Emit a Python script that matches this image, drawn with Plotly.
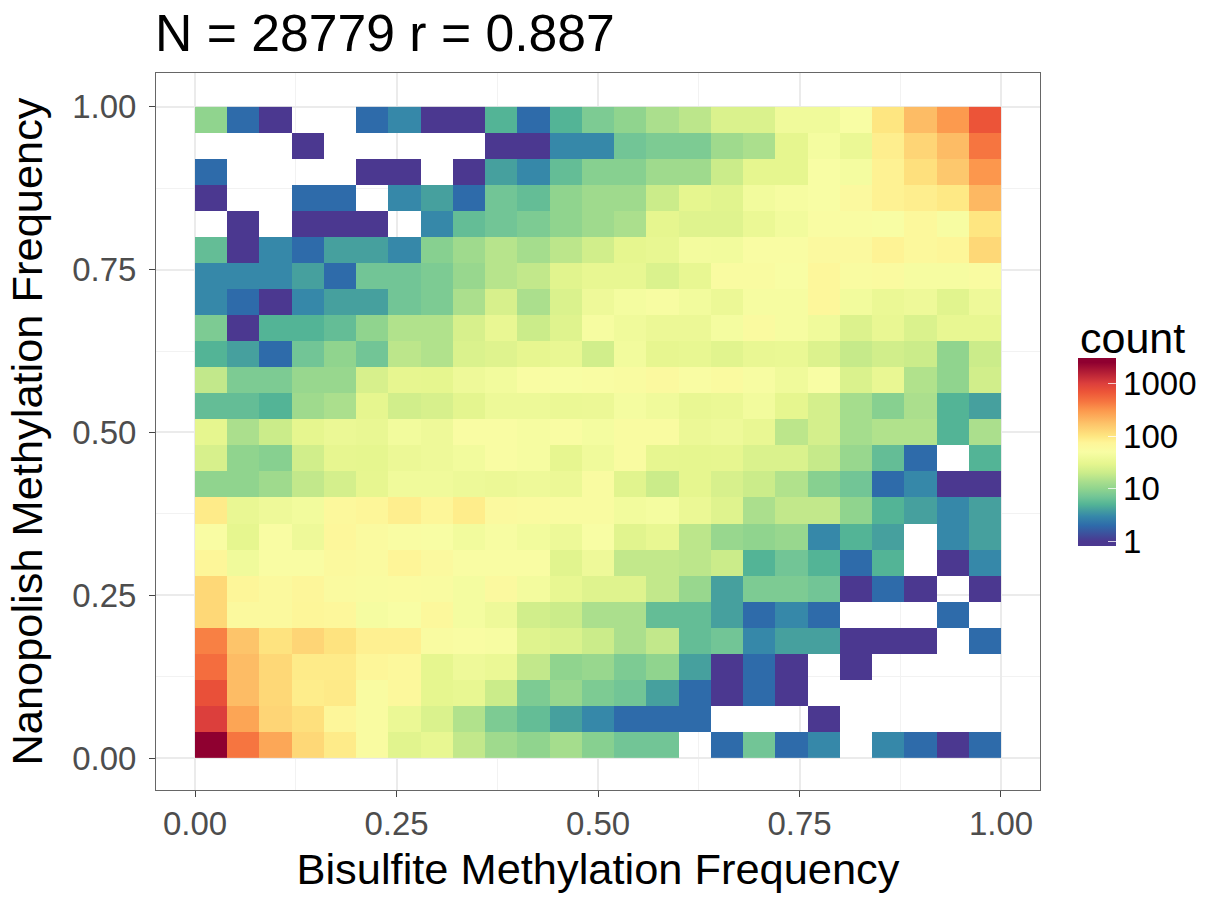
import numpy as np
import plotly.graph_objects as go

title_text = "N = 28779 r = 0.887"
x_title = "Bisulfite Methylation Frequency"
y_title = "Nanopolish Methylation Frequency"
legend_title = "count"
axis_ticks = [0, 0.25, 0.5, 0.75, 1.0]
axis_labels = ["0.00", "0.25", "0.50", "0.75", "1.00"]
minor_ticks = [0.125, 0.375, 0.625, 0.875]
legend_ticks = [1, 10, 100, 1000]

# Counts per bin, top row (y = 1) first, 0 = empty bin
r24 = [10,2,1,0,0,2,3,1,1,5,2,5,8,10,14,17,25,25,40,40,50,100,190,300,700]
r23 = [0,0,0,1,0,0,0,0,0,1,1,3,3,7,8,8,12,14,30,45,35,85,130,190,450]
r22 = [2,0,0,0,0,1,1,0,1,4,3,6,9,9,12,12,20,30,30,50,45,80,110,160,310]
r21 = [1,0,0,2,2,0,3,4,2,7,6,10,12,12,20,30,28,42,47,50,60,80,85,95,200]
r20 = [0,1,0,1,1,1,0,3,6,7,8,10,12,14,30,27,27,35,42,52,52,50,65,48,100]
r19 = [6,1,3,2,4,4,3,9,12,16,13,17,22,30,32,43,42,52,52,60,60,78,65,72,125]
r18 = [3,3,3,4,2,7,7,8,11,16,18,28,32,32,25,32,55,55,50,68,55,58,47,47,55]
r17 = [3,2,1,3,4,4,7,8,14,24,14,25,38,45,48,42,36,47,47,68,42,35,38,28,38]
r16 = [8,1,5,5,6,10,15,15,24,33,20,27,47,40,36,36,45,58,47,40,26,33,25,32,32]
r15 = [5,4,2,7,10,7,17,15,25,27,31,33,22,42,31,32,28,33,34,26,19,22,20,10,20]
r14 = [18,8,8,11,11,24,31,30,38,42,52,50,52,55,60,52,58,48,40,50,25,33,15,10,22]
r13 = [6,6,5,12,14,30,22,24,29,37,37,35,36,45,40,33,35,42,30,23,13,9,14,5,4]
r12 = [30,14,20,30,35,33,42,38,52,52,47,52,45,55,55,36,38,33,17,23,13,15,15,5,14]
r11 = [24,10,9,22,31,30,36,38,42,52,47,31,40,55,31,30,31,25,25,19,11,6,2,0,5]
r10 = [10,10,12,18,23,31,40,40,37,36,38,36,55,28,20,30,24,20,15,9,7,2,3,1,1]
r09 = [90,33,38,42,65,72,85,72,88,60,58,55,55,42,45,35,27,14,18,18,10,5,4,3,4]
r08 = [52,30,52,38,68,58,52,50,42,48,42,37,50,28,32,17,11,10,11,3,5,4,0,3,4]
r07 = [72,40,52,52,62,58,75,60,52,52,52,28,38,18,18,17,20,5,7,5,2,5,0,1,3]
r06 = [125,72,62,70,58,55,56,55,45,60,43,32,27,27,18,11,4,8,8,7,1,2,1,0,1]
r05 = [125,62,62,72,68,46,50,65,45,38,22,20,14,14,6,6,4,2,3,2,0,0,0,2,0]
r04 = [400,170,105,130,105,82,82,55,52,48,27,25,20,14,18,6,7,3,4,4,1,1,1,0,2]
r03 = [500,190,125,90,90,72,65,30,38,35,18,10,11,8,10,4,1,2,1,0,1,0,0,0,0]
r02 = [750,190,125,88,92,55,65,30,32,20,8,11,8,7,4,2,1,2,1,0,0,0,0,0,0]
r01 = [1000,260,130,110,70,55,35,25,15,8,6,4,3,2,2,2,0,0,0,1,0,0,0,0,0]
r00 = [2500,450,250,125,90,55,28,32,18,12,10,13,9,7,7,0,2,7,2,3,0,3,2,1,2]

rows_top_down = [r24,r23,r22,r21,r20,r19,r18,r17,r16,r15,r14,r13,r12,
                 r11,r10,r09,r08,r07,r06,r05,r04,r03,r02,r01,r00]

# Colour ramp as (count, colour)
ramp_counts = [1, 2, 3, 4, 5, 7, 10, 14, 20, 30, 50, 75, 100, 170, 300, 450, 700, 1000, 2500]
ramp_colors = ["#4B3890", "#2E6BAA", "#3688A9", "#46A09E", "#53B496", "#72C596", "#90D48E",
               "#ABDF8D", "#CBEC8A", "#E6F68F", "#F8FDA4", "#FEF598", "#FEE681", "#FDC46A",
               "#FC9A4E", "#F67540", "#EC5438", "#DC3F3C", "#8F0030"]

counts = np.array(rows_top_down[::-1], dtype=float)
z = np.where(counts > 0, np.log10(np.where(counts > 0, counts, 1)), np.nan)

zmin, zmax = -0.089, 3.484
colorscale = [[0, ramp_colors[0]]]
for c, col in zip(ramp_counts, ramp_colors):
    colorscale.append([(np.log10(c) - zmin) / (zmax - zmin), col])
colorscale.append([1, ramp_colors[-1]])

FONT = "Liberation Sans"
fig = go.Figure(go.Heatmap(
    z=z, x0=0.02, dx=0.04, y0=0.02, dy=0.04, zmin=zmin, zmax=zmax,
    colorscale=colorscale, hoverongaps=False,
    colorbar=dict(
        x=1078/1209, xref="container", xanchor="left",
        y=(790-546)/717, yref="paper", yanchor="bottom",
        len=188, lenmode="pixels", thickness=38, thicknessmode="pixels",
        outlinewidth=0, borderwidth=0, xpad=0, ypad=0,
        tickmode="array", tickvals=[float(np.log10(v)) for v in legend_ticks],
        ticktext=[str(v) for v in legend_ticks],
        ticks="inside", ticklen=8, tickcolor="rgba(255,255,255,0.75)", tickwidth=1,
        tickfont=dict(size=33, color="black", family=FONT),
    ),
))

def axis(title, rng, standoff, label_gap):
    return dict(
        title=dict(text=title, font=dict(size=43.4, color="black", family=FONT), standoff=standoff),
        range=rng, tickmode="array", tickvals=axis_ticks, ticktext=axis_labels,
        tickfont=dict(size=33, color="#4D4D4D", family=FONT),
        ticks="outside", ticklen=6, tickcolor="#444444", tickwidth=1,
        showgrid=True, gridcolor="#EBEBEB", gridwidth=2, zeroline=False,
        minor=dict(tickmode="array", tickvals=minor_ticks, showgrid=True,
                   gridcolor="#F2F2F2", gridwidth=1, ticks=""),
        showline=True, mirror=True, linecolor="#666666", linewidth=1,
        ticklabelstandoff=label_gap,
    )

fig.update_layout(
    width=1209, height=899,
    margin=dict(l=156, r=169, t=73, b=109, autoexpand=False),
    paper_bgcolor="white", plot_bgcolor="white",
    font=dict(family=FONT),
    title=dict(text=title_text, font=dict(size=51.7, color="black", family=FONT),
               xref="container", yref="container", x=155/1209, xanchor="left",
               y=1-33/899, yanchor="middle"),
    xaxis=axis(x_title, [-0.0484, 1.0484], 13, -2),
    yaxis=axis(y_title, [-0.049, 1.052], 15, 6),
    annotations=[dict(text=legend_title, xref="paper", yref="paper",
                      x=(1078-156)/884, y=(790-338)/717, xanchor="left", yanchor="middle",
                      showarrow=False, font=dict(size=43, color="black", family=FONT))],
)
fig.write_html("out.html", config=dict(displayModeBar=False),
               post_script="document.body.style.margin='0';document.documentElement.style.overflow='hidden';")
